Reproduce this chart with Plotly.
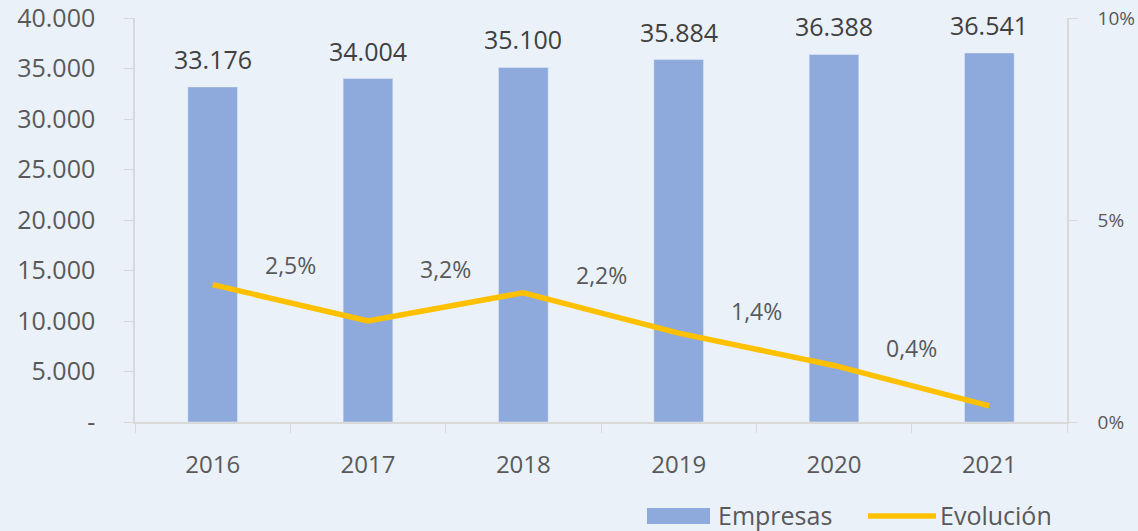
import plotly.graph_objects as go

years = ["2016", "2017", "2018", "2019", "2020", "2021"]
empresas = [33176, 34004, 35100, 35884, 36388, 36541]
evolucion = [3.4, 2.5, 3.2, 2.2, 1.4, 0.4]  # % change
y_tickvals = [0, 5000, 10000, 15000, 20000, 25000, 30000, 35000, 40000]
y_ticktext = ["-", "5.000", "10.000", "15.000", "20.000", "25.000", "30.000", "35.000", "40.000"]
y2_tickvals = [0, 5, 10]
y2_ticktext = ["0%", "5%", "10%"]

FONT = "Open Sans"
BG = "#EAF1F9"
AXC = "#D9D9D9"
TXT = "#595959"
BAR = "#8EAADC"
LINE = "#FFC000"

fig = go.Figure()
fig.add_trace(go.Bar(
    x=years, y=empresas, name="Empresas", marker_color=BAR,
    showlegend=False, hoverinfo="skip",
))
fig.add_trace(go.Scatter(
    x=years, y=evolucion, name="Evolución", yaxis="y2", mode="lines",
    line=dict(color=LINE, width=5.5), showlegend=False, hoverinfo="skip",
))

# value labels above bars (x given as category index)
for i, v in enumerate(empresas):
    fig.add_annotation(
        x=i, y=v, xref="x", yref="y", text=f"{v:,}".replace(",", "."),
        showarrow=False, yanchor="middle", yshift=28,
        font=dict(family=FONT, size=25, color="#404040"),
    )

# percent labels at segment midpoints
for i in range(1, len(years)):
    fig.add_annotation(
        x=i - 0.5, y=(evolucion[i - 1] + evolucion[i]) / 2, xref="x", yref="y2",
        text=f"{evolucion[i]:.1f}".replace(".", ",") + "%", showarrow=False,
        yshift=38, font=dict(family=FONT, size=23, color=TXT),
    )

# manual legend (pixel positions converted to paper coords)
L, R, T, B = 135, 1067, 18, 422
def px(x):
    return (x - L) / (R - L)
def py(y):
    return (B - y) / (B - T)

fig.add_shape(type="rect", xref="paper", yref="paper",
              x0=px(647), x1=px(710), y0=py(524), y1=py(508),
              fillcolor=BAR, line=dict(width=0))
fig.add_annotation(x=px(716), y=py(515), xref="paper", yref="paper",
                   text="Empresas", showarrow=False, xanchor="left", yanchor="middle",
                   font=dict(family=FONT, size=25, color=TXT))
fig.add_shape(type="line", xref="paper", yref="paper",
              x0=px(868), x1=px(936), y0=py(516), y1=py(516),
              line=dict(color=LINE, width=5.5))
fig.add_annotation(x=px(938), y=py(515), xref="paper", yref="paper",
                   text="Evolución", showarrow=False, xanchor="left", yanchor="middle",
                   font=dict(family=FONT, size=25, color=TXT))

fig.update_layout(
    width=1138, height=531,
    margin=dict(l=L, r=1138 - R, t=T, b=531 - B, autoexpand=False),
    paper_bgcolor=BG, plot_bgcolor=BG,
    separators=",.",
    bargap=0.68,
    font=dict(family=FONT, color=TXT),
    xaxis=dict(
        type="category", range=[-0.5, len(years) - 0.5],
        showline=True, linecolor=AXC, linewidth=1.5,
        ticks="outside", tickson="boundaries", ticklen=9, tickcolor=AXC,
        tickfont=dict(family=FONT, size=24, color=TXT), ticklabelstandoff=20,
        showgrid=False, automargin=False,
    ),
    yaxis=dict(
        range=[0, 40000], tickvals=y_tickvals, ticktext=y_ticktext,
        showline=True, linecolor=AXC, linewidth=1.5, ticks="outside",
        ticklen=9, tickcolor=AXC, showgrid=False, zeroline=False,
        tickfont=dict(family=FONT, size=25, color=TXT), ticklabelstandoff=24,
        automargin=False, ticklabeloverflow="allow",
    ),
    yaxis2=dict(
        range=[0, 10], tickvals=y2_tickvals, ticktext=y2_ticktext,
        overlaying="y", side="right",
        showline=True, linecolor=AXC, linewidth=1.5, ticks="outside",
        ticklen=9, tickcolor=AXC, showgrid=False, zeroline=False,
        tickfont=dict(family=FONT, size=19, color=TXT), ticklabelstandoff=16,
        automargin=False, ticklabeloverflow="allow",
    ),
)

fig.write_html(
    "out.html",
    config={"displayModeBar": False},
    post_script="document.body.style.margin='0';document.body.style.background='#EAF1F9';",
)
